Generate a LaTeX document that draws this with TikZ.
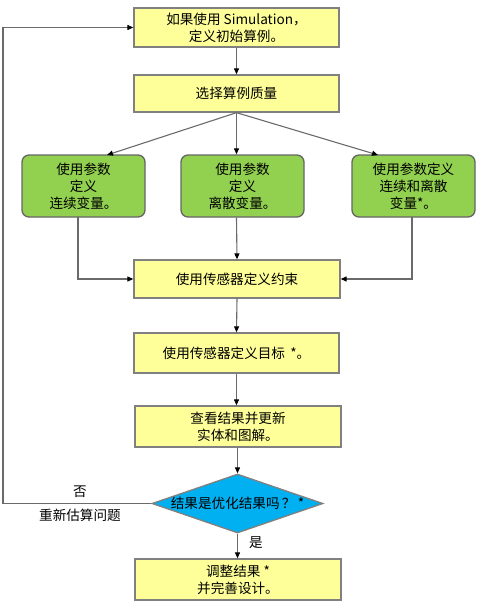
\documentclass[tikz,border=0pt]{standalone}
\usepackage{fontspec}
\setmainfont{Noto Sans CJK SC}
\usetikzlibrary{shapes.geometric,arrows.meta}
\definecolor{boxy}{HTML}{FFFF99}
\definecolor{boxg}{HTML}{92D050}
\definecolor{boxb}{HTML}{00B0F0}
\definecolor{edgec}{HTML}{808080}
\definecolor{lnc}{HTML}{6A6A6A}
\tikzset{
  ybox/.style={draw=edgec, line width=1.3pt, fill=boxy, minimum width=205pt, inner sep=0pt, align=center, font=\fontsize{13.6}{17}\selectfont},
  gbox/.style={draw=edgec!80!black, line width=1.3pt, fill=boxg, rounded corners=7pt, minimum width=123pt, minimum height=62pt, inner sep=0pt, align=center, font=\fontsize{13.6}{17}\selectfont},
  conn/.style={draw=lnc, line width=1.1pt, -{Triangle[length=6pt,width=5pt,fill=black,color=black]}},
  lbl/.style={font=\fontsize{13.6}{17}\selectfont, inner sep=0pt}
}
\begin{document}
\begin{tikzpicture}[x=1pt,y=-1pt]
\useasboundingbox (0,0) rectangle (490,606);
\node[ybox, minimum height=39pt] (b1) at (236.5,27.5) {如果使用 Simulation，\\定义初始算例。};
\node[ybox, minimum height=37pt] (b2) at (236.5,93.5) {选择算例质量};
\node[gbox] (gl) at (83.5,186) {使用参数\\定义\\连续变量。};
\node[gbox] (gm) at (242.5,186) {使用参数\\定义\\离散变量。};
\node[gbox] (gr) at (413.5,186) {使用参数定义\\连续和离散\\变量*。};
\node[ybox, minimum width=206pt, minimum height=38pt] (b3) at (237,279) {使用传感器定义约束};
\node[ybox, minimum height=40pt] (b4) at (236.5,353) {使用传感器定义目标 \,*。};
\node[ybox, minimum width=206pt, minimum height=41pt] (b5) at (238,426.5) {查看结果并更新\\实体和图解。};
\node[diamond, draw=edgec, line width=1.3pt, fill=boxb, minimum width=171pt, minimum height=59pt, inner sep=0pt] (d) at (237.5,503.5) {};
\node[lbl] (dt) at (d.center) {结果是优化结果吗\,？\,*};
\node[ybox, minimum width=206pt, minimum height=41pt] (b6) at (238,579.5) {调整结果 *\\并完善设计。};
\coordinate (gmtop) at (b2.south |- gm.north);
\coordinate (gmbot) at (b2.south |- gm.south);
\draw[conn] (b1.south) -- (b2.north);
\draw[conn] (b2.south) -- (107,155);
\draw[conn] (b2.south) -- (gmtop);
\draw[conn] (b2.south) -- (378,155);
\draw[conn] (gmbot) -- (b3.north);
\draw[conn] (78,217) |- (b3.west);
\draw[conn] (412,217) |- (b3.east);
\draw[conn] (b3.south) -- (b4.north);
\draw[conn] (b4.south) -- (b4.south |- b5.north);
\draw[conn] (b5.south -| d.north) -- (d.north);
\draw[conn] (d.south) -- (d.south |- b6.north);
\coordinate (fb) at (3,503.5);
\draw[conn] (d.west) -- (fb) |- (b1.west);
\node[lbl] (no) at (80,492) {否};
\node[lbl] (re) at (80,515) {重新估算问题};
\node[lbl] (yes) at (256,543) {是};
\end{tikzpicture}
\end{document}
